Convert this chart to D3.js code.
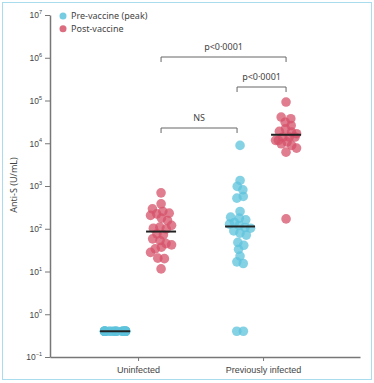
<!DOCTYPE html>
<html>
<head>
<meta charset="utf-8">
<script src="https://cdn.jsdelivr.net/npm/d3@7"></script>
<style>
  body { margin: 0; background: #fff; }
  svg { display: block; font-family: "Noto Sans", "Open Sans", sans-serif; }
</style>
</head>
<body>
<div id="chart"></div>
<script>
// groups on the x axis
var groups = ["Uninfected", "Previously infected"];
var seriesNames = ["Pre-vaccine (peak)", "Post-vaccine"];

// anti-S values (U/mL)
var uninfectedPre = [0.4, 0.4, 0.4, 0.4, 0.4, 0.4, 0.4, 0.4, 0.4, 0.4, 0.4, 0.4,
                     0.4, 0.4, 0.4, 0.4, 0.4, 0.4, 0.4, 0.4, 0.4, 0.4, 0.4, 0.4];
var uninfectedPost = [692, 383, 292, 254, 232, 223, 205, 177, 156, 120, 109, 103,
                      99, 76, 72, 58, 53, 45, 42, 37, 34, 28, 20.5, 20, 11.5];
var previousPre = [8900, 1350, 980, 815, 570, 520, 254, 187, 177, 162, 140, 128,
                   119, 107, 103, 89, 79, 71, 48, 41, 33, 23, 16.8, 15.4, 0.4, 0.4];
var previousPost = [92000, 41000, 37500, 31000, 26000, 21800, 19000, 18300, 16700,
                    14000, 14000, 14000, 11700, 11700, 10700, 9700, 8900, 7700, 6200, 170];
var medians = [0.4, 86, 113, 15800];   // uninf pre, uninf post, prev pre, prev post

var yTicks = [0.1, 1, 10, 100, 1000, 1e4, 1e5, 1e6, 1e7];
var yExp = ["\u22121", "0", "1", "2", "3", "4", "5", "6", "7"];

var colors = ["#5ec3dc", "#d6526a"];

var W = 374, H = 383;

var svg = d3.select("#chart")
  .append("svg")
    .attr("width", W)
    .attr("height", H);

// frame
svg.append("rect")
  .attr("x", 2.5).attr("y", 2.5)
  .attr("width", 369).attr("height", 377)
  .attr("fill", "none")
  .attr("stroke", "#a9dced")
  .attr("stroke-width", 1);

var y = d3.scaleLog()
  .domain([0.1, 1e7])
  .range([357, 15]);

var x = d3.scalePoint()
  .domain(groups)
  .range([50, 360])
  .padding(0.74)
  .align(0.476);

var off = 23;

// y axis
var yAxis = svg.append("g")
  .attr("transform", "translate(50,0)")
  .call(d3.axisLeft(y).tickValues(yTicks).tickSize(5).tickSizeOuter(0));
yAxis.select(".domain").attr("stroke", "#777").attr("stroke-width", 1.5);
yAxis.selectAll(".tick line").attr("stroke", "#777");
yAxis.selectAll(".tick text").each(function(d, i) {
  var t = d3.select(this).text("").attr("x", -8).attr("fill", "#444")
    .attr("font-size", 8.5).attr("dy", "0.35em");
  t.append("tspan").text("10");
  t.append("tspan").text(yExp[i]).attr("font-size", 5.5).attr("dy", "-0.8em");
});

svg.append("text")
  .attr("transform", "translate(17,185) rotate(-90)")
  .attr("text-anchor", "middle")
  .attr("font-size", 9)
  .attr("fill", "#444")
  .text("Anti-S (U/mL)");

// x axis
var xAxis = svg.append("g")
  .attr("transform", "translate(0,357)")
  .call(d3.axisBottom(x).tickSize(4).tickSizeOuter(0));
xAxis.select(".domain").attr("stroke", "#777").attr("stroke-width", 1.5);
xAxis.selectAll(".tick line").attr("stroke", "#777");
xAxis.selectAll(".tick text").attr("fill", "#444").attr("font-size", 9).attr("dy", "0.95em");

// beeswarm layout
var sets = [
  {g: groups[0], s: 0, vals: uninfectedPre},
  {g: groups[0], s: 1, vals: uninfectedPost},
  {g: groups[1], s: 0, vals: previousPre},
  {g: groups[1], s: 1, vals: previousPost}
];

var dots = [];
sets.forEach(function(set, k) {
  var cx = x(set.g) + (set.s === 0 ? -off : off);
  set.cx = cx;
  var nodes = set.vals.map(function(v, i) {
    return {v: v, s: set.s, fy: y(v), x: cx + ((i % 5) - 2) * 0.7};
  });
  var sim = d3.forceSimulation(nodes)
    .force("x", d3.forceX(cx).strength(0.06))
    .force("c", d3.forceCollide(3.3))
    .stop();
  for (var t = 0; t < 200; t++) {
    sim.tick();
    nodes.forEach(function(n) { n.x = Math.max(cx - 10.5, Math.min(cx + 10.5, n.x)); });
  }
  dots = dots.concat(nodes);
});

svg.append("g").selectAll("circle")
  .data(dots)
  .enter()
  .append("circle")
    .attr("cx", function(d) { return d.x; })
    .attr("cy", function(d) { return d.fy; })
    .attr("r", 4.8)
    .attr("fill", function(d) { return colors[d.s]; })
    .attr("fill-opacity", 0.75);

// medians
svg.append("g").selectAll("line")
  .data(sets)
  .enter()
  .append("line")
    .attr("x1", function(d) { return d.cx - 15; })
    .attr("x2", function(d) { return d.cx + 15; })
    .attr("y1", function(d, i) { return y(medians[i]); })
    .attr("y2", function(d, i) { return y(medians[i]); })
    .attr("stroke", "#222")
    .attr("stroke-width", 2);

// significance brackets
var brackets = [
  {a: sets[1].cx, b: sets[3].cx, yy: 57, label: "p<0\u00b70001"},
  {a: sets[2].cx - 3, b: sets[3].cx, yy: 87, label: "p<0\u00b70001"},
  {a: sets[1].cx, b: sets[2].cx - 3, yy: 128, label: "NS"}
];
var br = svg.append("g").selectAll("g")
  .data(brackets)
  .enter()
  .append("g");
br.append("path")
  .attr("d", function(d) {
    return "M" + d.a + "," + (d.yy + 5) + "V" + d.yy + "H" + d.b + "V" + (d.yy + 5);
  })
  .attr("fill", "none")
  .attr("stroke", "#666")
  .attr("stroke-width", 1);
br.append("text")
  .attr("x", function(d) { return (d.a + d.b) / 2; })
  .attr("y", function(d) { return d.yy - 7; })
  .attr("text-anchor", "middle")
  .attr("font-size", 9)
  .attr("fill", "#444")
  .text(function(d) { return d.label; });

// legend
var leg = svg.append("g").selectAll("g")
  .data(seriesNames)
  .enter()
  .append("g")
    .attr("transform", function(d, i) { return "translate(63," + (16 + i * 12.7) + ")"; });
leg.append("circle").attr("r", 3.5).attr("fill", function(d, i) { return colors[i]; })
  .attr("fill-opacity", 0.85);
leg.append("text").attr("x", 8).attr("dy", "0.35em")
  .attr("font-size", 9).attr("fill", "#444")
  .text(function(d) { return d; });
</script>
</body>
</html>
